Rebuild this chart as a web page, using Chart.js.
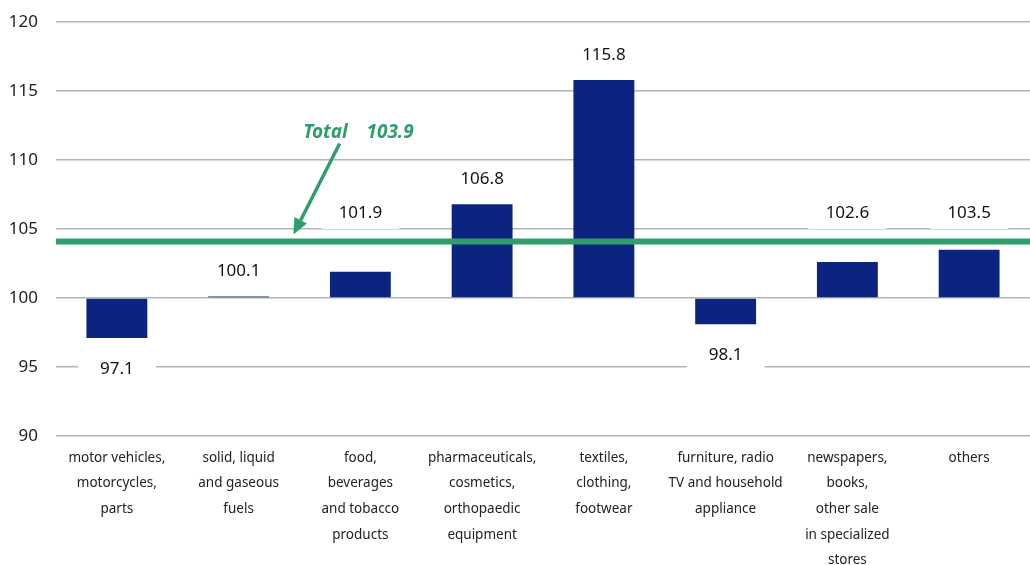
<!DOCTYPE html>
<html>
<head>
<meta charset="utf-8">
<script src="https://cdn.jsdelivr.net/npm/chart.js@4.4.1/dist/chart.umd.min.js"></script>
<style>
  html, body { margin: 0; padding: 0; background: #fff; }
  #wrap { width: 1030px; height: 565px; position: relative; }
</style>
</head>
<body>
<div id="wrap"><canvas id="c"></canvas></div>
<script>
// Retail sales index by category, base = 100, with the overall total line.
const categories = [
  ['motor vehicles,', 'motorcycles,', 'parts'],
  ['solid, liquid', 'and gaseous', 'fuels'],
  ['food,', 'beverages', 'and tobacco', 'products'],
  ['pharmaceuticals,', 'cosmetics,', 'orthopaedic', 'equipment'],
  ['textiles,', 'clothing,', 'footwear'],
  ['furniture, radio', 'TV and household', 'appliance'],
  ['newspapers,', 'books,', 'other sale', 'in specialized', 'stores'],
  ['others']
];
const values = [97.1, 100.1, 101.9, 106.8, 115.8, 98.1, 102.6, 103.5];
const baseLevel = 100;
const totalValue = 103.9;
const totalLineLevel = 104.1;   // where the green line sits in the picture
const yMin = 90, yMax = 120, yStep = 5;

const NAVY  = '#0A2480';
const GREEN = '#2E9E6B';
const GRID  = '#b4b4b4';
const FONT  = "'Noto Sans', 'Open Sans', sans-serif";

// annotation anchors, in scale units (fractional category index, y value)
const arrowTail = [1.83, 111.2];
const arrowTip  = [1.45, 104.6];
const totalText = [1.53, 112.0];
const totalNum  = [2.05, 112.0];

function xAt(scale, pos) {
  const i = Math.floor(pos);
  const a = scale.getPixelForValue(i), b = scale.getPixelForValue(i + 1);
  return a + (b - a) * (pos - i);
}

const overlay = {
  id: 'overlay',
  afterDatasetsDraw(chart) {
    const { ctx, chartArea, scales: { x, y } } = chart;
    const meta = chart.getDatasetMeta(0);
    const lineY = y.getPixelForValue(totalLineLevel);
    ctx.save();

    // value labels on white boxes
    ctx.font = '17px ' + FONT;
    ctx.textAlign = 'center';
    ctx.textBaseline = 'middle';
    meta.data.forEach((bar, i) => {
      const v = values[i];
      let cy;
      if (v >= baseLevel) {
        cy = bar.y - 25;
        if (Math.abs(cy - lineY) < 26) cy = lineY - 28;
      } else {
        cy = bar.y + 31;
      }
      ctx.fillStyle = '#fff';
      ctx.fillRect(bar.x - 39, cy - 15.5, 78, 31);
      ctx.fillStyle = '#111';
      ctx.fillText(v.toFixed(1), bar.x, cy);
    });

    // total line
    ctx.strokeStyle = GREEN;
    ctx.lineWidth = 6;
    ctx.beginPath();
    ctx.moveTo(chartArea.left, lineY);
    ctx.lineTo(chartArea.right, lineY);
    ctx.stroke();

    // arrow
    const x1 = xAt(x, arrowTail[0]), y1 = y.getPixelForValue(arrowTail[1]);
    const x2 = xAt(x, arrowTip[0]),  y2 = y.getPixelForValue(arrowTip[1]);
    const ang = Math.atan2(y2 - y1, x2 - x1);
    const head = 16, hw = 7;
    const bx = x2 - Math.cos(ang) * head, by = y2 - Math.sin(ang) * head;
    ctx.lineWidth = 3.5;
    ctx.beginPath();
    ctx.moveTo(x1, y1);
    ctx.lineTo(bx, by);
    ctx.stroke();
    ctx.fillStyle = GREEN;
    ctx.beginPath();
    ctx.moveTo(x2, y2);
    ctx.lineTo(bx - Math.sin(ang) * hw, by + Math.cos(ang) * hw);
    ctx.lineTo(bx + Math.sin(ang) * hw, by - Math.cos(ang) * hw);
    ctx.closePath();
    ctx.fill();

    // label
    ctx.font = 'italic bold 19px ' + FONT;
    ctx.textAlign = 'left';
    ctx.fillText('Total', xAt(x, totalText[0]), y.getPixelForValue(totalText[1]));
    ctx.fillText(totalValue.toFixed(1), xAt(x, totalNum[0]), y.getPixelForValue(totalNum[1]));
    ctx.restore();
  }
};

new Chart(document.getElementById('c'), {
  type: 'bar',
  data: {
    labels: categories,
    datasets: [{
      data: values,
      base: baseLevel,
      backgroundColor: NAVY,
      borderWidth: 0,
      categoryPercentage: 1,
      barPercentage: 0.5
    }]
  },
  options: {
    responsive: true,
    maintainAspectRatio: false,
    animation: false,
    layout: { padding: { top: 22, right: 0, bottom: 0, left: 0 } },
    plugins: { legend: { display: false }, tooltip: { enabled: false } },
    scales: {
      x: {
        grid: { display: false },
        border: { display: false },
        ticks: {
          color: '#222', autoSkip: false, maxRotation: 0, padding: 1,
          font: { family: FONT, size: 13.5, lineHeight: 1.9 }
        },
        afterFit(s) { s.height = 129; }
      },
      y: {
        min: yMin, max: yMax,
        grid: { color: GRID, lineWidth: 1.5, drawTicks: false },
        border: { display: false },
        ticks: {
          stepSize: yStep, color: '#222', padding: 18,
          font: { family: FONT, size: 17 }
        },
        afterFit(s) { s.width = 56; s.paddingTop = 0; s.paddingBottom = 0; }
      }
    }
  },
  plugins: [overlay]
});
</script>
</body>
</html>
